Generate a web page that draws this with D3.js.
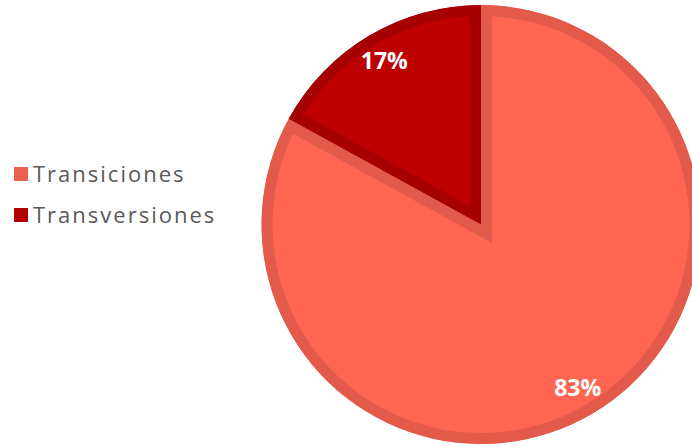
<!DOCTYPE html>
<html>
<head>
<meta charset="utf-8">
<script src="https://d3js.org/d3.v7.min.js"></script>
<style>
    body {
        margin: 0;
        background: #ffffff;
    }
    .legend text {
        font-family: "Open Sans", sans-serif;
        font-size: 22px;
        letter-spacing: 2px;
        fill: #595959;
    }
    .pct {
        font-family: "Open Sans", sans-serif;
        font-size: 23px;
        font-weight: bold;
        fill: #ffffff;
    }
</style>
</head>
<body>
<script>

    var categories = ["Transiciones", "Transversiones"];
    var values = [83, 17];
    var labels = ["83%", "17%"];

    var fills = ["#fe6651", "#bd0000"];
    var borders = ["#e35a4b", "#a60000"];
    var swatches = ["#e8604f", "#b00000"];

    var width = 692,
        height = 446;

    var cx = 481, cy = 224.5, radius = 219.5;

    var svg = d3.select("body").append("svg")
        .attr("width", width)
        .attr("height", height);

    var pie = d3.pie()
        .sort(null)
        .value(function (d) { return d.value; });

    var data = categories.map(function (c, i) {
        return { name: c, value: values[i], label: labels[i] };
    });

    var arcs = pie(data);

    var arc = d3.arc()
        .innerRadius(0)
        .outerRadius(radius);

    var labelArc = d3.arc()
        .innerRadius(190)
        .outerRadius(190);

    var g = svg.append("g")
        .attr("transform", "translate(" + cx + "," + cy + ")");

    // clip paths so the border sits inside each slice
    var defs = svg.append("defs");
    defs.selectAll("clipPath")
        .data(arcs)
        .enter().append("clipPath")
        .attr("id", function (d, i) { return "clip" + i; })
        .append("path")
        .attr("d", arc);

    g.selectAll(".slice")
        .data(arcs)
        .enter().append("path")
        .attr("class", "slice")
        .attr("d", arc)
        .attr("clip-path", function (d, i) { return "url(#clip" + i + ")"; })
        .style("fill", function (d, i) { return fills[i]; })
        .style("stroke", function (d, i) { return borders[i]; })
        .style("stroke-width", 22)
        .style("stroke-linejoin", "miter");

    g.selectAll(".pct")
        .data(arcs)
        .enter().append("text")
        .attr("class", "pct")
        .attr("transform", function (d) { return "translate(" + labelArc.centroid(d) + ")"; })
        .attr("text-anchor", "middle")
        .attr("dy", "0.36em")
        .text(function (d) { return d.data.label; });

    //Legend
    var legend = svg.selectAll(".legend")
        .data(categories)
        .enter().append("g")
        .attr("class", "legend")
        .attr("transform", function (d, i) { return "translate(14," + (167 + i * 41) + ")"; });

    legend.append("rect")
        .attr("width", 14)
        .attr("height", 14)
        .style("fill", function (d, i) { return swatches[i]; });

    legend.append("text")
        .attr("x", 19)
        .attr("y", 14.5)
        .text(function (d) { return d; });

</script>
</body>
</html>
